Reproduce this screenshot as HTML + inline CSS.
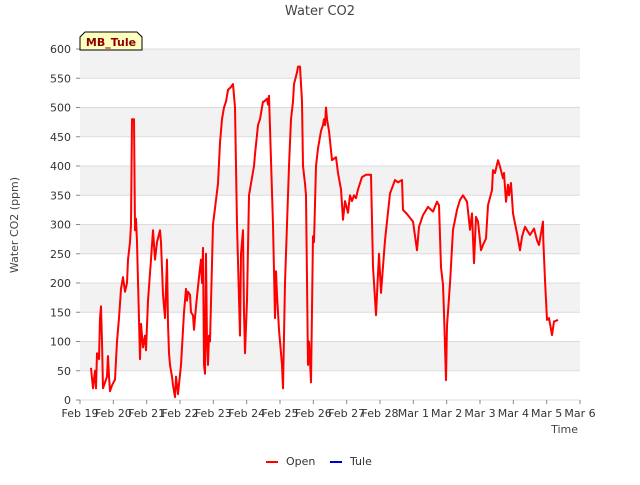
<!DOCTYPE html>
<html><head><meta charset="utf-8"><style>
body{margin:0;background:#fff;font-family:"Liberation Sans","DejaVu Sans",sans-serif}
svg text{font-family:"DejaVu Sans","Liberation Sans",sans-serif}
</style></head><body>
<svg id="chart" width="640" height="480" xmlns="http://www.w3.org/2000/svg">
<text x="320" y="15" text-anchor="middle" font-size="13" fill="#444">Water CO2</text>
<g id="plot"></g>
<text transform="translate(18,225) rotate(-90)" text-anchor="middle" font-size="11" fill="#444">Water CO2 (ppm)</text>
<text x="578" y="433" text-anchor="end" font-size="11" fill="#444">Time</text>
<g>
<path d="M80,50 L80,37 L85,32 L137,32 L142,37 L142,50 Z" fill="#ffffc0" stroke="#000" stroke-width="1"/>
<text x="111" y="46" text-anchor="middle" font-size="11" font-weight="bold" fill="#8b0000">MB_Tule</text>
</g>
<g>
<g><line x1="266" y1="462" x2="278" y2="462" stroke="#ff0000" stroke-width="2"/><text x="286" y="465" font-size="11" fill="#333">Open</text></g>
<g><line x1="330" y1="462" x2="342" y2="462" stroke="#0000cc" stroke-width="2"/><text x="350" y="465" font-size="11" fill="#333">Tule</text></g>
</g>
</svg>
<script>
const xTickLabels=["Feb 19","Feb 20","Feb 21","Feb 22","Feb 23","Feb 24","Feb 25","Feb 26","Feb 27","Feb 28","Mar 1","Mar 2","Mar 3","Mar 4","Mar 5","Mar 6"];
const yTicks=[0,50,100,150,200,250,300,350,400,450,500,550,600];
const openDays=[0.33,0.39,0.45,0.48,0.51,0.57,0.60,0.63,0.66,0.69,0.75,0.81,0.84,0.87,0.90,0.96,1.05,1.11,1.17,1.23,1.29,1.35,1.41,1.44,1.50,1.53,1.56,1.62,1.65,1.68,1.71,1.80,1.83,1.89,1.95,1.98,2.04,2.13,2.19,2.25,2.31,2.40,2.43,2.49,2.55,2.61,2.64,2.67,2.70,2.76,2.79,2.85,2.88,2.94,3.03,3.12,3.18,3.21,3.24,3.30,3.33,3.39,3.42,3.48,3.57,3.63,3.66,3.69,3.72,3.75,3.78,3.81,3.84,3.87,3.90,3.99,4.14,4.20,4.26,4.32,4.38,4.44,4.53,4.59,4.65,4.71,4.80,4.83,4.89,4.92,4.95,5.01,5.07,5.16,5.22,5.25,5.34,5.40,5.49,5.52,5.61,5.64,5.67,5.73,5.79,5.85,5.88,5.91,5.97,6.06,6.09,6.15,6.27,6.33,6.39,6.42,6.51,6.54,6.60,6.66,6.69,6.75,6.78,6.84,6.87,6.93,6.99,7.02,7.08,7.14,7.23,7.29,7.32,7.35,7.38,7.41,7.47,7.56,7.68,7.74,7.83,7.89,7.95,8.04,8.10,8.16,8.22,8.28,8.34,8.46,8.58,8.73,8.79,8.88,8.97,9.03,9.15,9.21,9.30,9.45,9.54,9.66,9.69,9.81,9.99,10.11,10.17,10.29,10.44,10.59,10.71,10.77,10.83,10.89,10.92,10.98,11.01,11.10,11.19,11.31,11.40,11.49,11.61,11.70,11.76,11.82,11.88,11.94,12.03,12.09,12.18,12.24,12.36,12.39,12.45,12.54,12.60,12.69,12.72,12.78,12.84,12.87,12.93,12.99,13.11,13.20,13.26,13.35,13.50,13.62,13.71,13.77,13.83,13.89,13.90,13.95,14.01,14.07,14.16,14.22,14.34];
const openValues=[55,20,50,20,80,70,140,160,100,20,30,40,75,40,15,25,35,100,140,190,210,185,200,240,270,300,480,480,290,310,270,70,130,90,110,85,170,240,290,240,270,290,270,180,140,240,130,80,60,40,25,5,40,10,60,150,190,170,185,180,150,145,120,160,210,240,200,260,60,45,250,100,60,110,100,300,370,440,480,500,510,530,535,540,500,300,110,250,290,150,80,170,350,380,400,420,470,480,510,510,515,505,520,410,300,140,220,180,120,60,20,200,400,480,510,540,560,570,570,510,400,370,350,60,100,30,280,270,400,430,460,470,480,470,500,480,460,410,415,388,360,308,340,320,350,340,350,345,360,381,385,385,228,145,250,183,273,305,353,376,372,376,325,318,305,256,296,316,330,322,339,333,227,197,149,34,127,199,291,325,342,350,339,291,319,234,313,305,256,265,276,333,359,393,388,410,399,379,388,339,368,350,371,319,285,256,279,296,282,293,273,265,285,305,273,205,137,140,111,134,137];
const tuleDays=[];const tuleValues=[];
const NS="http://www.w3.org/2000/svg";
const L=80,R=580,T=49,B=400;
const xScale=d=>L+d*(R-L)/(xTickLabels.length-1);
const yScale=v=>B-v*(B-T)/600;
const g=document.getElementById('plot');
function mk(t,a){const e=document.createElementNS(NS,t);for(const k in a)e.setAttribute(k,a[k]);return e;}
for(let i=0;i<yTicks.length-1;i++){
 const band=mk('rect',{x:L,y:yScale(yTicks[i+1]),width:R-L,height:yScale(yTicks[i])-yScale(yTicks[i+1]),fill:(i%2===1)?'#f2f2f2':'#ffffff'});
 
 
 g.appendChild(band);
}
yTicks.forEach(v=>{
 const ln=mk('line',{x1:L,x2:R,y1:yScale(v),y2:yScale(v),stroke:'#dcdcdc','stroke-width':1});
 
 
 g.appendChild(ln);
 const tk=mk('line',{x1:L-4,x2:L,y1:yScale(v),y2:yScale(v),stroke:'#888'});
 
 
 g.appendChild(tk);
 const t=mk('text',{x:L-9,y:yScale(v)+4,'text-anchor':'end','font-size':11,fill:'#333'});
 t.textContent=v;
 
 
 g.appendChild(t);
});
xTickLabels.forEach((s,i)=>{
 const tk=mk('line',{x1:xScale(i),x2:xScale(i),y1:B,y2:B+4,stroke:'#888'});
 
 
 g.appendChild(tk);
 const t=mk('text',{x:xScale(i),y:B+17,'text-anchor':'middle','font-size':11,fill:'#333'});
 t.textContent=s;
 
 
 g.appendChild(t);
});
const pts=openDays.map((d,i)=>xScale(d).toFixed(1)+','+yScale(openValues[i]).toFixed(1)).join(' ');
const line=mk('polyline',{points:pts,fill:'none',stroke:'#ff0000','stroke-width':2,'stroke-linejoin':'round'});


g.appendChild(line);
if(tuleDays.length){
 const p2=tuleDays.map((d,i)=>xScale(d)+','+yScale(tuleValues[i])).join(' ');
 const l2=mk('polyline',{points:p2,fill:'none',stroke:'#0000cc','stroke-width':2});
 
 
 g.appendChild(l2);
}
</script>
</body></html>
